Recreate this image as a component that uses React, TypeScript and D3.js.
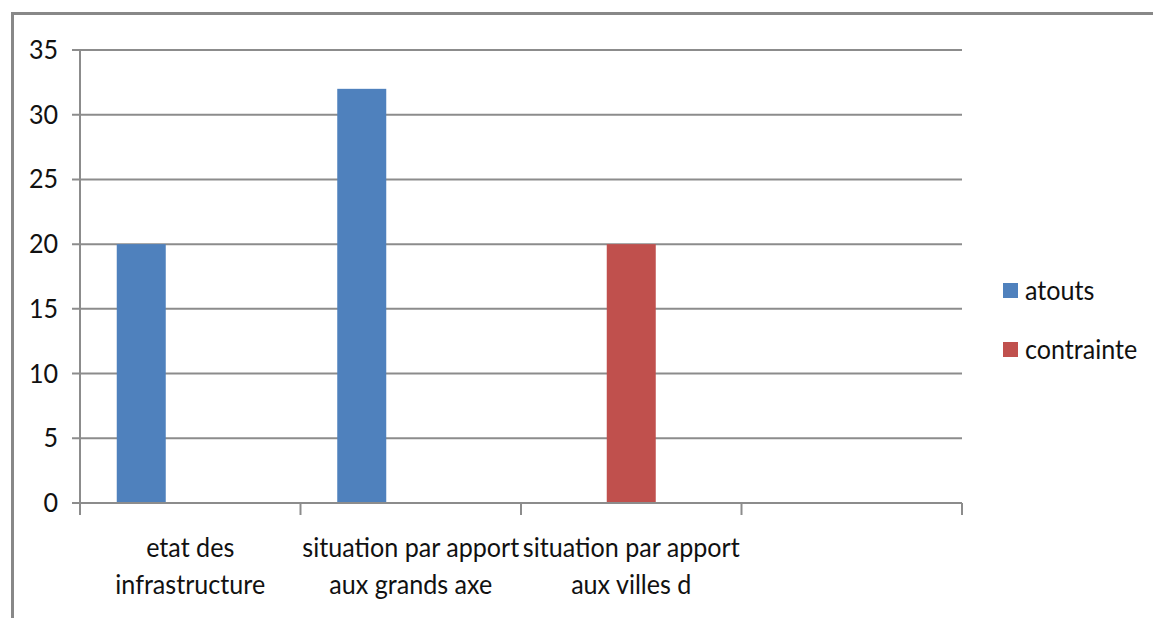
import React from "react";
import * as d3 from "d3";

const categories = ["cat1", "cat2", "cat3", "cat4"];
const categoryLabels: string[][] = [
  ["etat des", "infrastructure"],
  ["situation par apport", "aux grands axe"],
  ["situation par apport", "aux villes d"],
  [],
];
const seriesNames = ["atouts", "contrainte", "s3"];
const atouts = [20, 32, 0, 0];
const contrainte = [0, 0, 20, 0];
const serie3 = [0, 0, 0, 0];
const seriesColors = ["#4F81BD", "#C0504D", "#9BBB59"];
const legendNames = ["atouts", "contrainte"];
const yTicks = [0, 5, 10, 15, 20, 25, 30, 35];

const W = 1153;
const H = 618;
const FONT = "Lato, 'Liberation Sans', sans-serif";
const FS = 27;
const SX = 0.93;

function T(props: { x: number; y: number; anchor?: string; children: React.ReactNode }) {
  const { x, y, anchor = "start", children } = props;
  return (
    <text
      transform={`translate(${x},${y}) scale(${SX},1)`}
      textAnchor={anchor}
      fontFamily={FONT}
      fontSize={FS}
      fill="#111"
    >
      {children}
    </text>
  );
}

export default function App() {
  const left = 80, right = 962, top = 50, bottom = 503;
  const x = d3.scaleBand<string>().domain(categories).range([left, right]);
  const inner = d3
    .scaleBand<string>()
    .domain(seriesNames)
    .range([0, x.bandwidth()])
    .paddingInner(0)
    .paddingOuter(0.75);
  const y = d3.scaleLinear().domain([0, 35]).range([bottom, top]);
  const series = [atouts, contrainte, serie3];
  const grid = "#8c8c8c";

  return (
    <svg
      width={W}
      height={H}
      style={{ position: "absolute", left: 0, top: 0, background: "#fff" }}
    >
      <rect x={0} y={0} width={W} height={H} fill="#fff" />
      <line x1={12} y1={13.5} x2={W} y2={13.5} stroke="#888" strokeWidth={3} />
      <line x1={12.5} y1={12} x2={12.5} y2={H} stroke="#888" strokeWidth={3} />

      {yTicks.map((t) => (
        <g key={t}>
          <line x1={left - 8} x2={right} y1={y(t)} y2={y(t)} stroke={grid} strokeWidth={2} />
          <T x={58} y={y(t) + 9} anchor="end">
            {t}
          </T>
        </g>
      ))}
      <line x1={left} x2={left} y1={top} y2={bottom + 12} stroke={grid} strokeWidth={2} />
      {categories.map((c) => (
        <line
          key={c}
          x1={(x(c) as number) + x.bandwidth()}
          x2={(x(c) as number) + x.bandwidth()}
          y1={bottom}
          y2={bottom + 12}
          stroke={grid}
          strokeWidth={2}
        />
      ))}

      {series.map((vals, si) =>
        vals.map((v, ci) =>
          v > 0 ? (
            <rect
              key={`${si}-${ci}`}
              x={(x(categories[ci]) as number) + (inner(seriesNames[si]) as number)}
              width={inner.bandwidth()}
              y={y(v)}
              height={y(0) - y(v)}
              fill={seriesColors[si]}
            />
          ) : null
        )
      )}
      <line x1={left} x2={right} y1={bottom} y2={bottom} stroke={grid} strokeWidth={2} />

      {categories.map((c, ci) =>
        categoryLabels[ci].map((l, li) => (
          <T key={`${c}-${li}`} x={(x(c) as number) + x.bandwidth() / 2} y={557 + li * 37} anchor="middle">
            {l}
          </T>
        ))
      )}

      {legendNames.map((n, i) => (
        <g key={n}>
          <rect x={1003} y={283 + i * 59} width={15} height={15} fill={seriesColors[i]} />
          <T x={1025} y={300 + i * 59}>
            {n}
          </T>
        </g>
      ))}
    </svg>
  );
}
